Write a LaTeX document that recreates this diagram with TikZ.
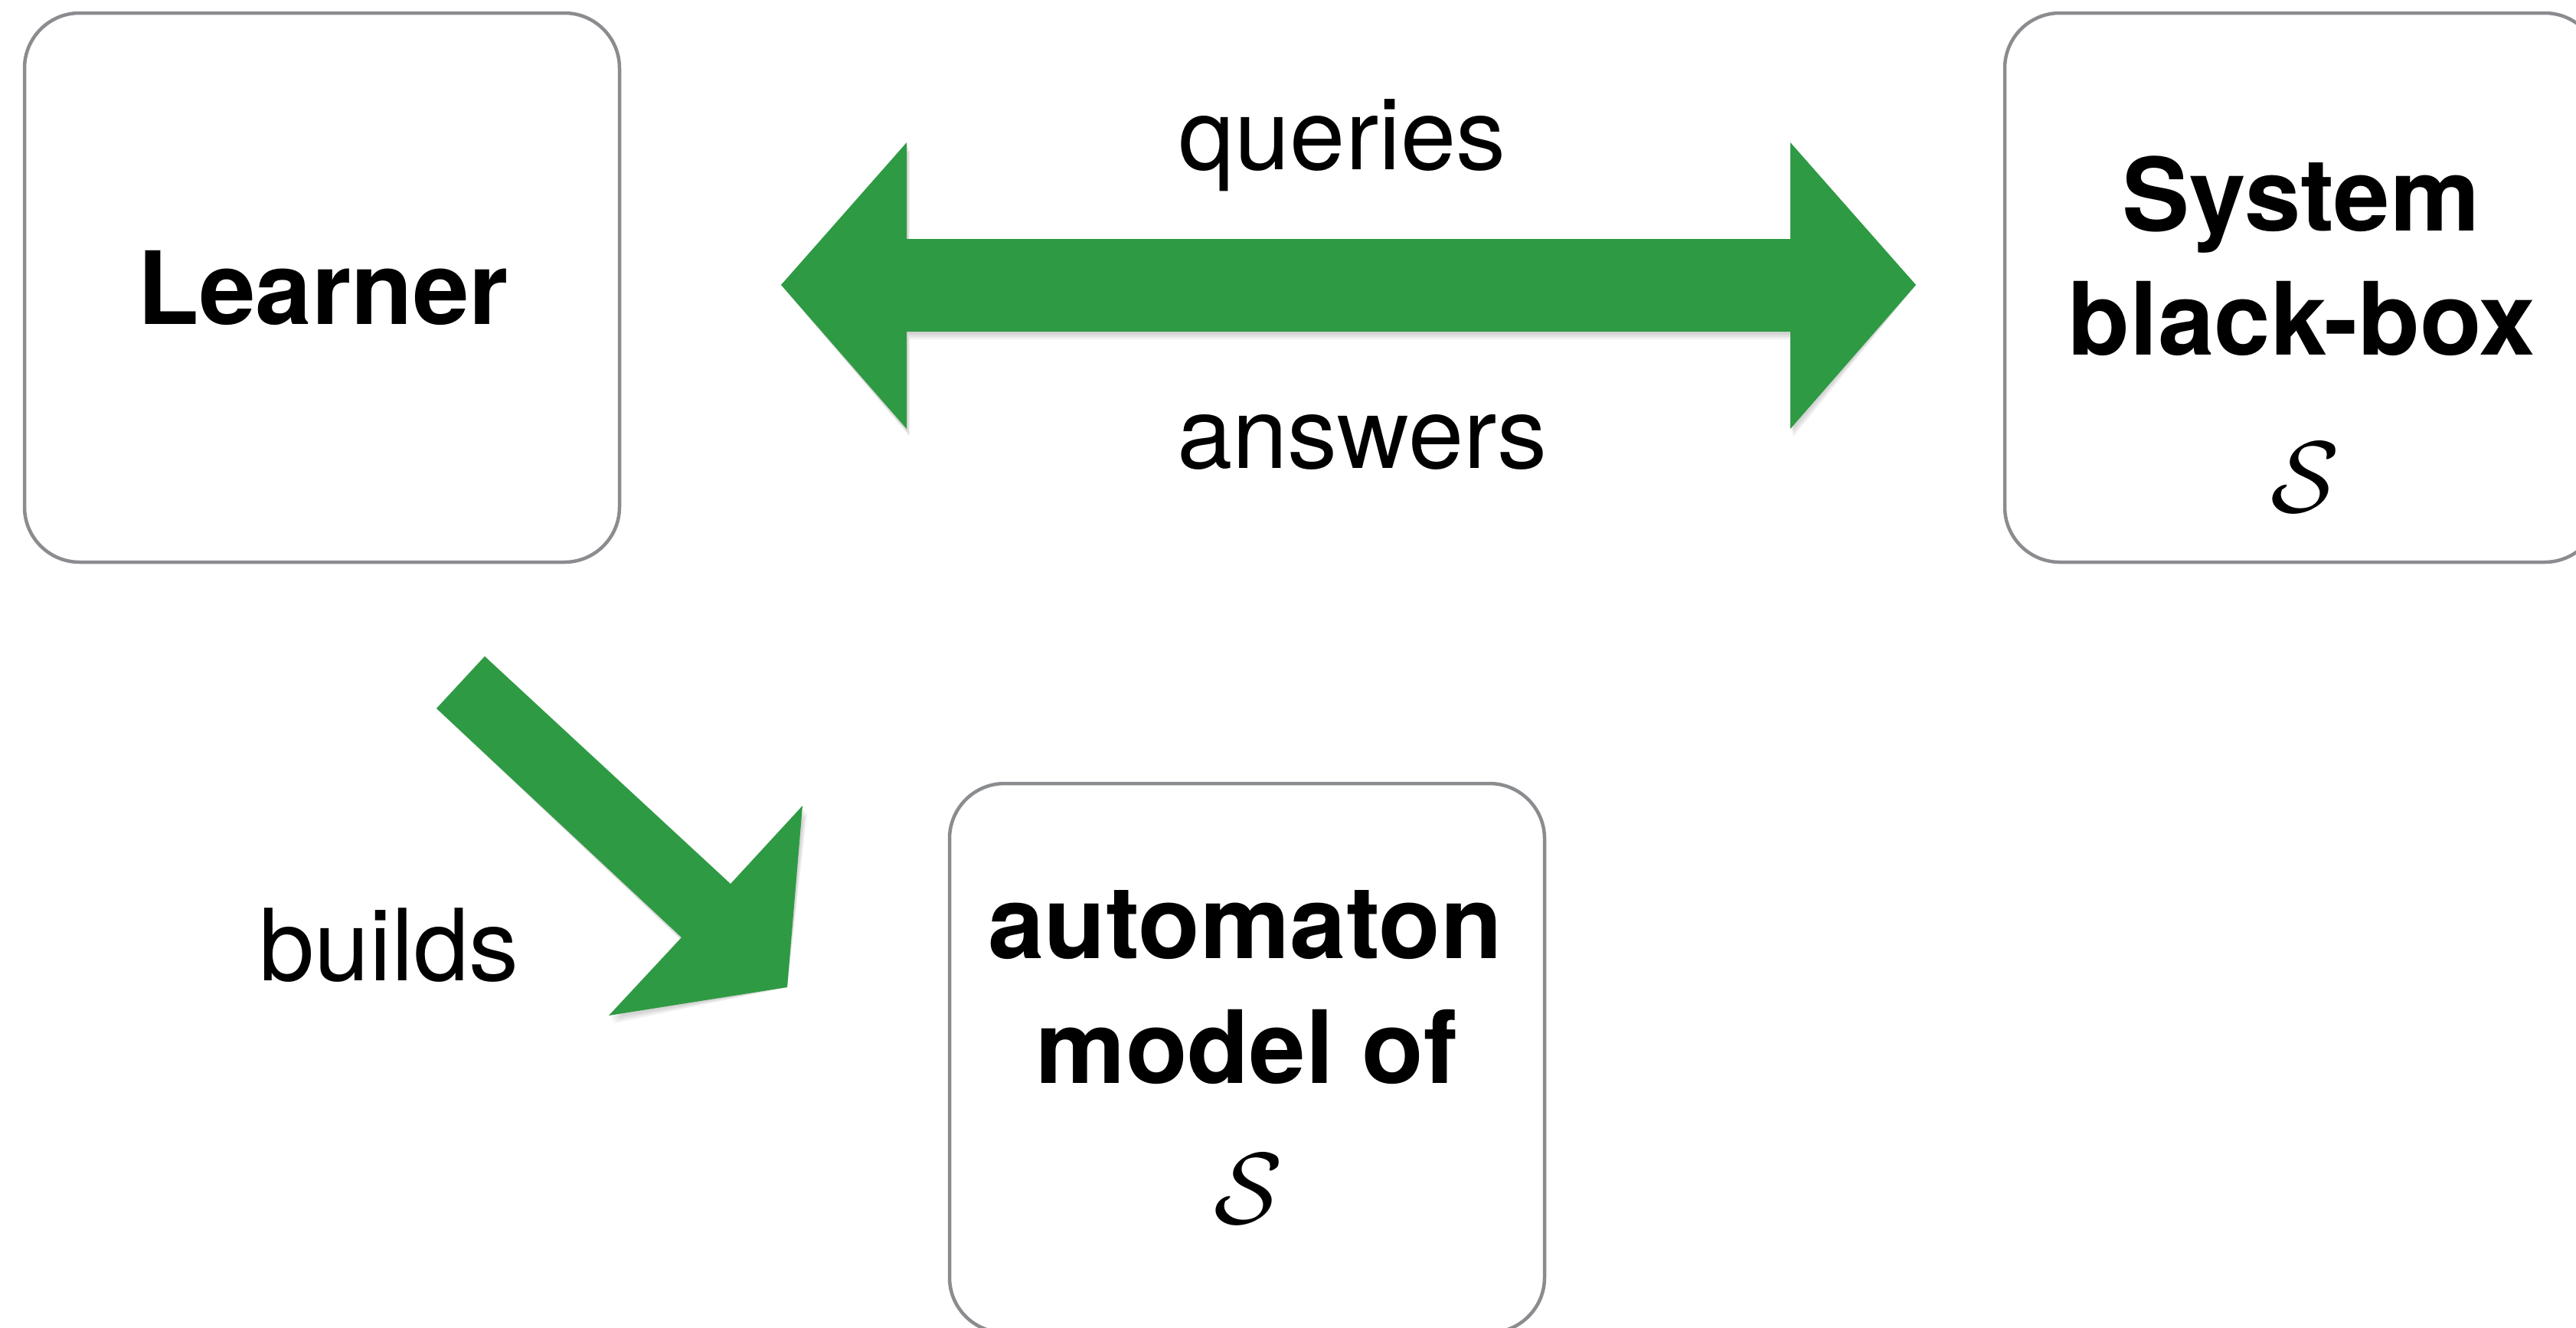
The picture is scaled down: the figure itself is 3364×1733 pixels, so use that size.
\documentclass[tikz,border=0pt]{standalone}
\usepackage{graphicx}
\usepackage{fontspec}
\setsansfont{TeX Gyre Heros}
\definecolor{arrowgreen}{RGB}{47,154,68}
\definecolor{boxgray}{RGB}{138,140,143}
\newcommand{\bigS}{\scalebox{13.2}{$\mathcal{S}$}}
\begin{document}
\begin{tikzpicture}[x=1pt,y=-1pt,
  box/.style={draw=boxgray, line width=4.5pt, rounded corners=72pt, minimum width=777pt, minimum height=717pt, inner sep=0pt},
  boxtext/.style={font=\sffamily\bfseries\fontsize{132}{162}\selectfont, anchor=base, inner sep=0pt},
  mathtext/.style={anchor=base, inner sep=0pt},
  lbl/.style={font=\sffamily\fontsize{130}{156}\selectfont, anchor=base, inner sep=0pt},
  fatarrow/.style={fill=arrowgreen},
  fatshadow/.style={fill=black, opacity=0.06}]
\useasboundingbox (0,0) rectangle (3364,1733);
\clip (0,0) rectangle (3364,1733);

% boxes
\node[box] (learner) at (420.5,375.5) {};
\node[box] (system) at (3006.5,375.5) {};
\node[box] (model) at (1628.5,1381.5) {};

% box texts
\node[boxtext] (learnerT) at (422,423) {Learner};
\node[boxtext] (systemT1) at (3005,301) {System};
\node[boxtext] (systemT2) at (3006,463) {black-box};
\node[mathtext] (systemS) at (3010,668) {\bigS};
\node[boxtext] (modelT1) at (1626,1251) {automaton};
\node[boxtext] (modelT2) at (1628,1414) {model of};
\node[mathtext] (modelS) at (1630,1597) {\bigS};

% labels
\node[lbl] (queries) at (1753,221) {queries};
\node[lbl] (answers) at (1779,611) {answers};
\node[lbl] (builds) at (508,1280) {builds};

% double arrow (queries / answers)
\coordinate (dl) at (1020,372);
\coordinate (dr) at (2502,372);
\foreach \s in {4,7,10} {
  \fill[fatshadow, shift={(\s*0.4,\s)}]
    (dl) -- (1184,186) -- (1184,312) -- (2338,312) -- (2338,186) -- (dr)
    -- (2338,560) -- (2338,433) -- (1184,433) -- (1184,560) -- cycle;
}
\fill[fatarrow]
  (dl) -- (1184,186) -- (1184,312) -- (2338,312) -- (2338,186) -- (dr)
  -- (2338,560) -- (2338,433) -- (1184,433) -- (1184,560) -- cycle;

% diagonal arrow (builds)
\coordinate (ta) at (633,857);
\coordinate (tb) at (570,925);
\coordinate (tip) at (1028,1289);
\foreach \s in {4,7,10} {
  \fill[fatshadow, shift={(\s*0.6,\s)}]
    (ta) -- (954,1154) -- (1048,1052) -- (tip) -- (795,1326) -- (890,1224) -- (tb) -- cycle;
}
\fill[fatarrow]
  (ta) -- (954,1154) -- (1048,1052) -- (tip) -- (795,1326) -- (890,1224) -- (tb) -- cycle;
\end{tikzpicture}
\end{document}
